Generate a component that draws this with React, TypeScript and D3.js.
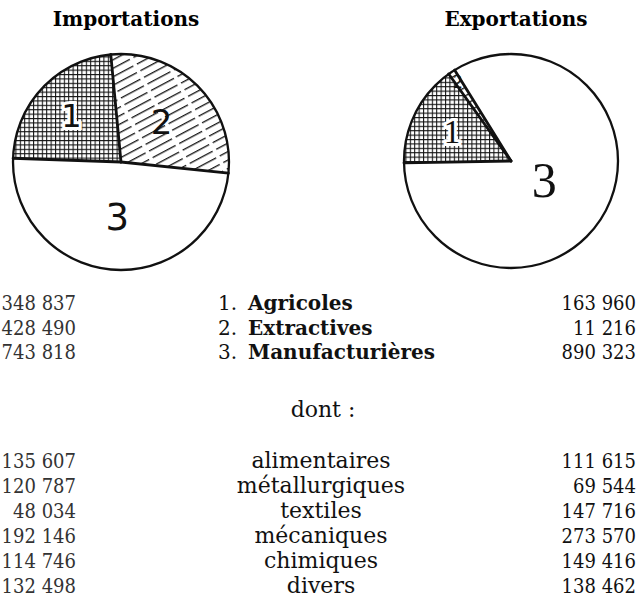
import * as d3 from "d3";

// valeurs
const sectors = ["Agricoles", "Extractives", "Manufacturières"];
const importTotals = [348837, 428490, 743818];
const exportTotals = [163960, 11216, 890323];

const subSectors = ["alimentaires", "métallurgiques", "textiles", "mécaniques", "chimiques", "divers"];
const importSub = [135607, 120787, 48034, 192146, 114746, 132498];
const exportSub = [111615, 69544, 147716, 273570, 149416, 138462];

const W = 638;
const H = 603;

const fr = d3.formatLocale({ decimal: ",", thousands: " ", grouping: [3], currency: ["", ""] });
const fmt = fr.format(",d");

const serif = "'DejaVu Serif', serif";
const numFont = "'DejaVu Serif Condensed', 'Liberation Serif', serif";
const fills = ["url(#cross)", "url(#diag)", "#fff"];
const deg = Math.PI / 180;

type PieProps = {
  values: number[]; cx: number; cy: number; r: number; start: number;
  title: string; labelR: number[]; labelSize: number[]; handFont: string;
};

const Pie = ({ values, cx, cy, r, start, title, labelR, labelSize, handFont }: PieProps) => {
  const pie = d3.pie<number>().sort(null).value(d => d)
    .startAngle(start).endAngle(start + 2 * Math.PI);
  const arcs = pie(values);
  const arc = d3.arc<d3.PieArcDatum<number>>().innerRadius(0).outerRadius(r);
  return (
    <g transform={`translate(${cx},${cy})`}>
      <text x={5} y={-cy + 26} textAnchor="middle" fontFamily={serif} fontWeight="bold" fontSize={20}>{title}</text>
      {arcs.map((a, i) => (
        <path key={i} d={arc(a) || ""} fill={fills[i]} stroke="none" />
      ))}
      <circle r={r} fill="none" stroke="#111" strokeWidth={2.3} />
      {arcs.map((a, i) => (
        <line key={i} x1={0} y1={0} x2={r * Math.sin(a.startAngle)} y2={-r * Math.cos(a.startAngle)}
          stroke="#111" strokeWidth={2.8} strokeLinecap="round" />
      ))}
      {arcs.map((a, i) => {
        const mid = (a.startAngle + a.endAngle) / 2;
        const lr = labelR[i];
        return (
          <text key={i} x={lr * Math.sin(mid)} y={-lr * Math.cos(mid)} dy="0.36em" textAnchor="middle"
            fontFamily={handFont} fontSize={labelSize[i]} fill="#111"
            stroke="#fff" strokeWidth={i === 0 ? 6 : 0} paintOrder="stroke">{i + 1}</text>
        );
      })}
    </g>
  );
};

export default function App() {
  const yTop = d3.scaleLinear().domain([0, sectors.length - 1]).range([310, 359]);
  const ySub = d3.scaleLinear().domain([0, subSectors.length - 1]).range([468, 593]);
  const leftX = 76;
  const rightX = 636;
  const midX = 321;

  return (
    <svg width={W} height={H} viewBox={`0 0 ${W} ${H}`} style={{ position: "absolute", left: 0, top: 0, background: "#fff" }}>
      <defs>
        <pattern id="cross" width={4.4} height={4.4} patternUnits="userSpaceOnUse">
          <rect width={4.4} height={4.4} fill="#fff" />
          <path d="M0,0.5H4.4M0.5,0V4.4" stroke="#111" strokeWidth={1.1} />
        </pattern>
        <pattern id="diag" width={30} height={7.5} patternUnits="userSpaceOnUse" patternTransform="rotate(-28)">
          <rect width={30} height={7.5} fill="#fff" />
          <path d="M0,3.5H26" stroke="#111" strokeWidth={1.3} />
        </pattern>
      </defs>

      <Pie values={importTotals} cx={121} cy={162} r={108} start={-88 * deg}
        title="Importations" labelR={[68, 57, 55]} labelSize={[32, 34, 37]} handFont="'DejaVu Sans', sans-serif" />
      <Pie values={exportTotals} cx={511} cy={161} r={107} start={-91 * deg}
        title="Exportations" labelR={[66, 96, 38]} labelSize={[33, 18, 50]} handFont="'Liberation Serif', serif" />

      <g fill="#111">
        {sectors.map((s, i) => (
          <g key={s}>
            <text x={leftX} y={yTop(i)} textAnchor="end" fill="#333" fontFamily={numFont} fontSize={20}>{fmt(importTotals[i])}</text>
            <text x={218} y={yTop(i)} fontFamily={serif} fontSize={20}>{i + 1}.</text>
            <text x={248} y={yTop(i)} fontFamily={serif} fontSize={20} fontWeight="bold">{s}</text>
            <text x={rightX} y={yTop(i)} textAnchor="end" fontFamily={numFont} fontSize={20}>{fmt(exportTotals[i])}</text>
          </g>
        ))}
        <text x={323} y={417} textAnchor="middle" fontFamily={serif} fontSize={22}>dont :</text>
        {subSectors.map((s, i) => (
          <g key={s}>
            <text x={leftX} y={ySub(i)} textAnchor="end" fill="#333" fontFamily={numFont} fontSize={20}>{fmt(importSub[i])}</text>
            <text x={midX} y={ySub(i)} textAnchor="middle" fontFamily={serif} fontSize={22}>{s}</text>
            <text x={rightX} y={ySub(i)} textAnchor="end" fontFamily={numFont} fontSize={20}>{fmt(exportSub[i])}</text>
          </g>
        ))}
      </g>
    </svg>
  );
}
